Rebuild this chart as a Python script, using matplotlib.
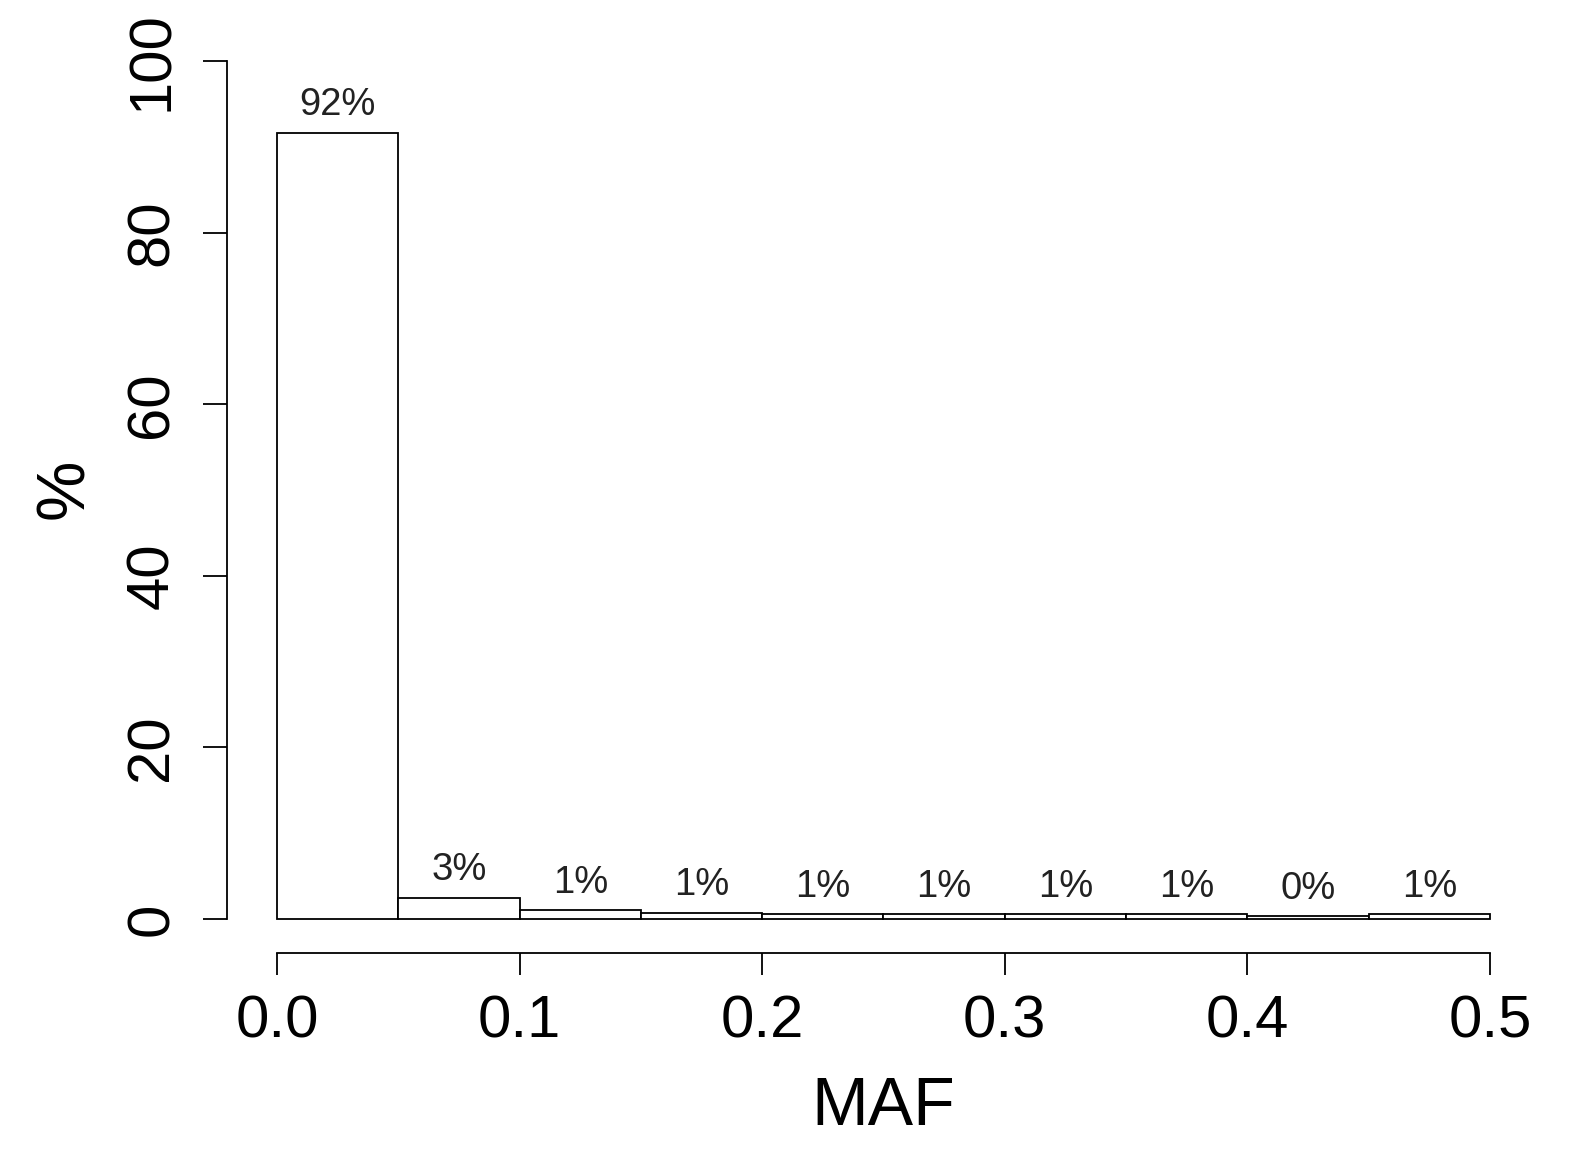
import matplotlib.pyplot as plt
import numpy as np

plt.rcParams['font.family'] = ['Liberation Sans', 'DejaVu Sans']

bin_edges = [0.0, 0.05, 0.1, 0.15, 0.2, 0.25, 0.3, 0.35, 0.4, 0.45, 0.5]
percent = [91.6, 2.5, 1.0, 0.75, 0.55, 0.55, 0.55, 0.55, 0.3, 0.55]
bar_labels = ['92%', '3%', '1%', '1%', '1%', '1%', '1%', '1%', '0%', '1%']
x_ticks = [0.0, 0.1, 0.2, 0.3, 0.4, 0.5]
y_ticks = [0, 20, 40, 60, 80, 100]

fig = plt.figure(figsize=(15.71, 11.5), dpi=100)
W, H = 1571, 1150
# axes box in pixels: left 227, right 1540, top 61, bottom 953
ax = fig.add_axes([227 / W, 1 - 953 / H, (1540 - 227) / W, (953 - 61) / H])

px_per_x = (1490 - 277) / 0.5
x_left = (227 - 277) / px_per_x
x_right = (1540 - 277) / px_per_x
px_per_y = (919 - 61) / 100
y_bottom = (919 - 953) / px_per_y
ax.set_xlim(x_left, x_right)
ax.set_ylim(y_bottom, 100)

lefts = np.array(bin_edges[:-1])
widths = np.diff(bin_edges)
ax.bar(lefts, percent, width=widths, align='edge', facecolor='white',
       edgecolor='black', linewidth=1.3)

for xl, w, h, lab in zip(lefts, widths, percent, bar_labels):
    ax.annotate(lab, (xl + w / 2, h), xytext=(0, 7), textcoords='offset points',
                ha='center', va='bottom', fontsize=27.5, color='#222222')

for s in ['top', 'right']:
    ax.spines[s].set_visible(False)
ax.spines['left'].set_bounds(0, 100)
ax.spines['bottom'].set_bounds(0, 0.5)
ax.spines['left'].set_linewidth(1.3)
ax.spines['bottom'].set_linewidth(1.3)

ax.set_xticks(x_ticks)
ax.set_xticklabels(['%.1f' % t for t in x_ticks])
ax.set_yticks(y_ticks)
ax.set_yticklabels([str(t) for t in y_ticks], rotation=90, va='center')
ax.tick_params(axis='x', length=16, width=1.3, pad=14, labelsize=43)
ax.tick_params(axis='y', length=17, width=1.3, pad=17, labelsize=43)

ax.set_xlabel('MAF', fontsize=49, labelpad=18)
ax.set_ylabel('%', fontsize=49)
ax.yaxis.set_label_coords(-0.099, 0.52)

fig.savefig('out.png', dpi=100)
